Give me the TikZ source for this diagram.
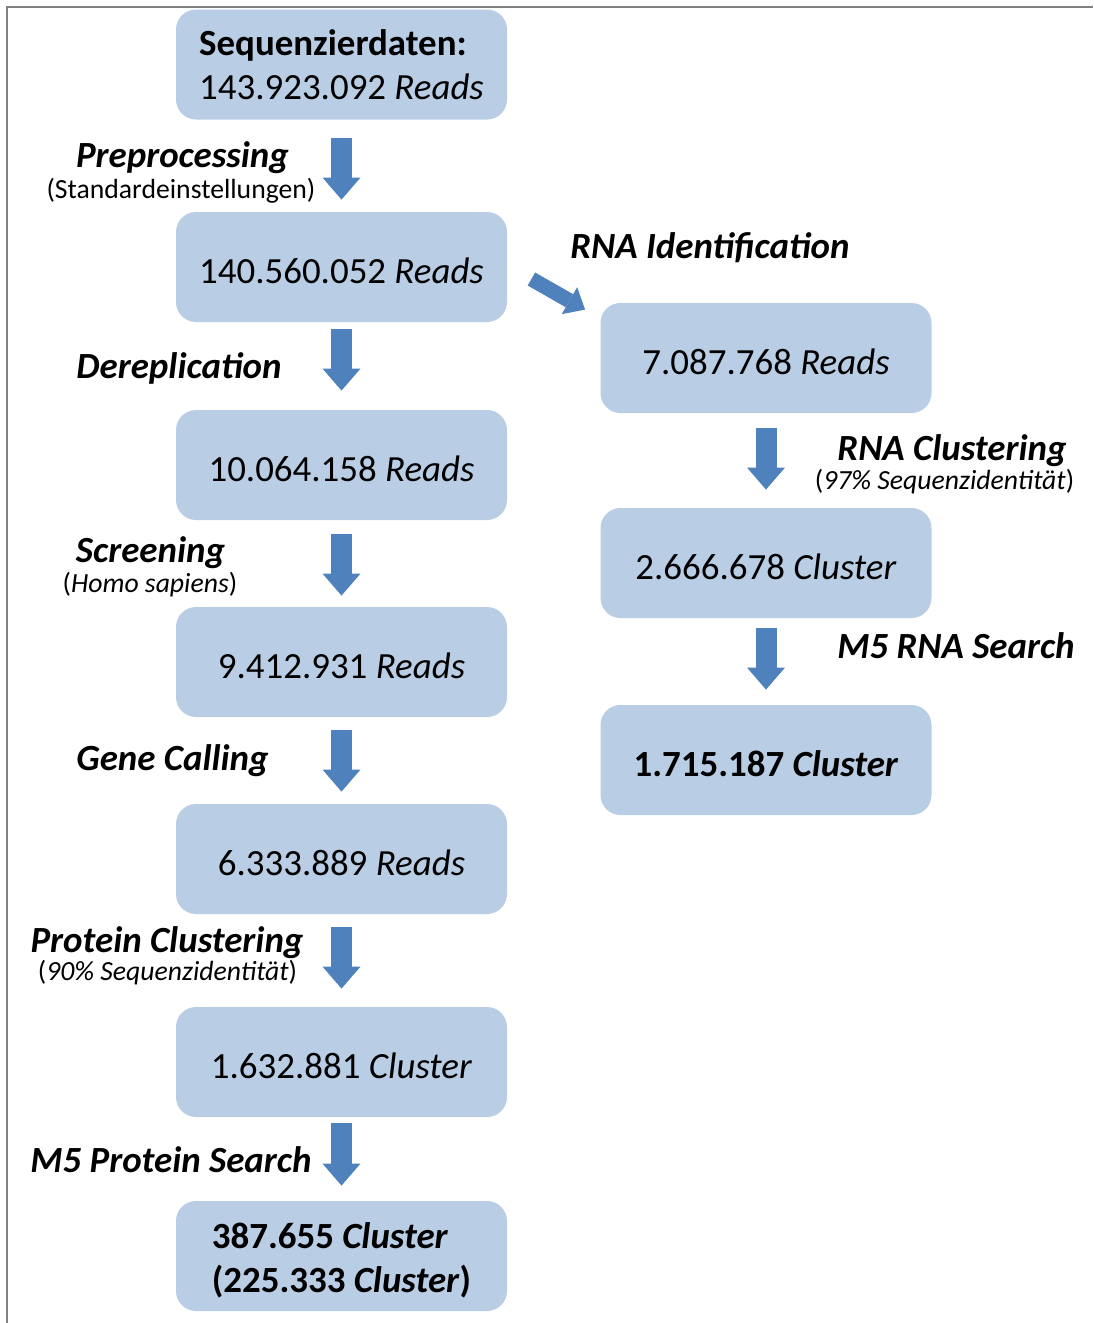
\documentclass[tikz,border=0pt]{standalone}
\usepackage{fontspec}
\setmainfont{Carlito}
\usetikzlibrary{arrows.meta,calc}
\definecolor{boxblue}{HTML}{B9CDE5}
\definecolor{arrowblue}{HTML}{4F81BD}
\definecolor{framegray}{HTML}{808080}

\begin{document}
\begin{tikzpicture}[x=0.5pt,y=-0.5pt,
  stepbox/.style={fill=boxblue, rounded corners=10pt, minimum width=165.5pt,
    minimum height=55pt, inner sep=0pt, align=left,
    font=\fontsize{18.45}{22}\selectfont},
  onebox/.style={stepbox, text height=16pt, text depth=0pt},
  steplabel/.style={anchor=base, inner sep=0pt,
    font=\fontsize{18.45}{22}\selectfont\bfseries\itshape},
  sublabel/.style={anchor=base, inner sep=0pt,
    font=\fontsize{13.85}{16}\selectfont},
  flow/.style 2 args={arrowblue, line width=10.5pt,
    -{Triangle[length=11pt,width=19pt,line width=0pt]},
    shorten <=#1, shorten >=#2},
  diagflow/.style={arrowblue, line width=7.5pt,
    -{Triangle[length=9pt,width=15.5pt,line width=0pt]}},
]
\useasboundingbox (0,0) rectangle (1093,1323);

% frame
\draw[framegray, line width=1pt] (7,1323) -- (7,7) -- (1093,7);

% main column
\node[stepbox] (b1) at (341.5,64.5) {\textbf{Sequenzierdaten:}\\143.923.092 \textit{Reads}};
\node[onebox] (b2) at (341.5,267) {140.560.052 \textit{Reads}};
\node[onebox] (b3) at (341.5,465) {10.064.158 \textit{Reads}};
\node[onebox] (b4) at (341.5,662) {9.412.931 \textit{Reads}};
\node[onebox] (b5) at (341.5,859) {6.333.889 \textit{Reads}};
\node[onebox] (b6) at (341.5,1062) {1.632.881 \textit{Cluster}};
\node[stepbox] (b7) at (341.5,1256) {\rule{0pt}{17.5pt}\textbf{387.655 \textit{Cluster}}\\\textbf{(225.333 \textit{Cluster})}};

% RNA column
\node[onebox] (ba) at (766,358) {7.087.768 \textit{Reads}};
\node[onebox] (bb) at (766,563) {2.666.678 \textit{Cluster}};
\node[onebox] (bc) at (766,760) {\textbf{1.715.187 \textit{Cluster}}};

% arrows
\draw[flow={9pt}{6pt}] (b1.south) -- (b2.north);
\draw[flow={3.5pt}{9.5pt}] (b2.south) -- (b3.north);
\draw[flow={7pt}{5.5pt}] (b3.south) -- (b4.north);
\draw[flow={6.5pt}{6pt}] (b4.south) -- (b5.north);
\draw[flow={6.5pt}{9pt}] (b5.south) -- (b6.north);
\draw[flow={3pt}{7.5pt}] (b6.south) -- (b7.north);
\draw[flow={7.5pt}{9pt}] (ba.south) -- (bb.north);
\draw[flow={5pt}{7.5pt}] (bb.south) -- (bc.north);
\draw[diagflow] ($(b2.east)+(24,12)$) -- ($(ba.north west)+(-15,7)$);

% step labels
\node[steplabel] (lpre) at (182.5,167) {Preprocessing};
\node[sublabel] (lpres) at (181,198) {(Standardeinstellungen)};
\node[steplabel] (lder) at (179,378) {Dereplication};
\node[steplabel] (lscr) at (150.5,562) {Screening};
\node[sublabel] (lscrs) at (150,592) {(\textit{Homo sapiens})};
\node[steplabel] (lgen) at (172.5,770) {Gene Calling};
\node[steplabel] (lpc) at (167,952) {Protein Clustering};
\node[sublabel] (lpcs) at (167.5,980) {(\textit{90\% Sequenzidentität})};
\node[steplabel] (lm5p) at (171,1172) {M5 Protein Search};
\node[steplabel] (lrid) at (710,258) {RNA Identification};
\node[steplabel] (lrc) at (952,460) {RNA Clustering};
\node[sublabel] (lrcs) at (944.5,489) {(\textit{97\% Sequenzidentität})};
\node[steplabel] (lm5r) at (956,658) {M5 RNA Search};
\end{tikzpicture}
\end{document}
